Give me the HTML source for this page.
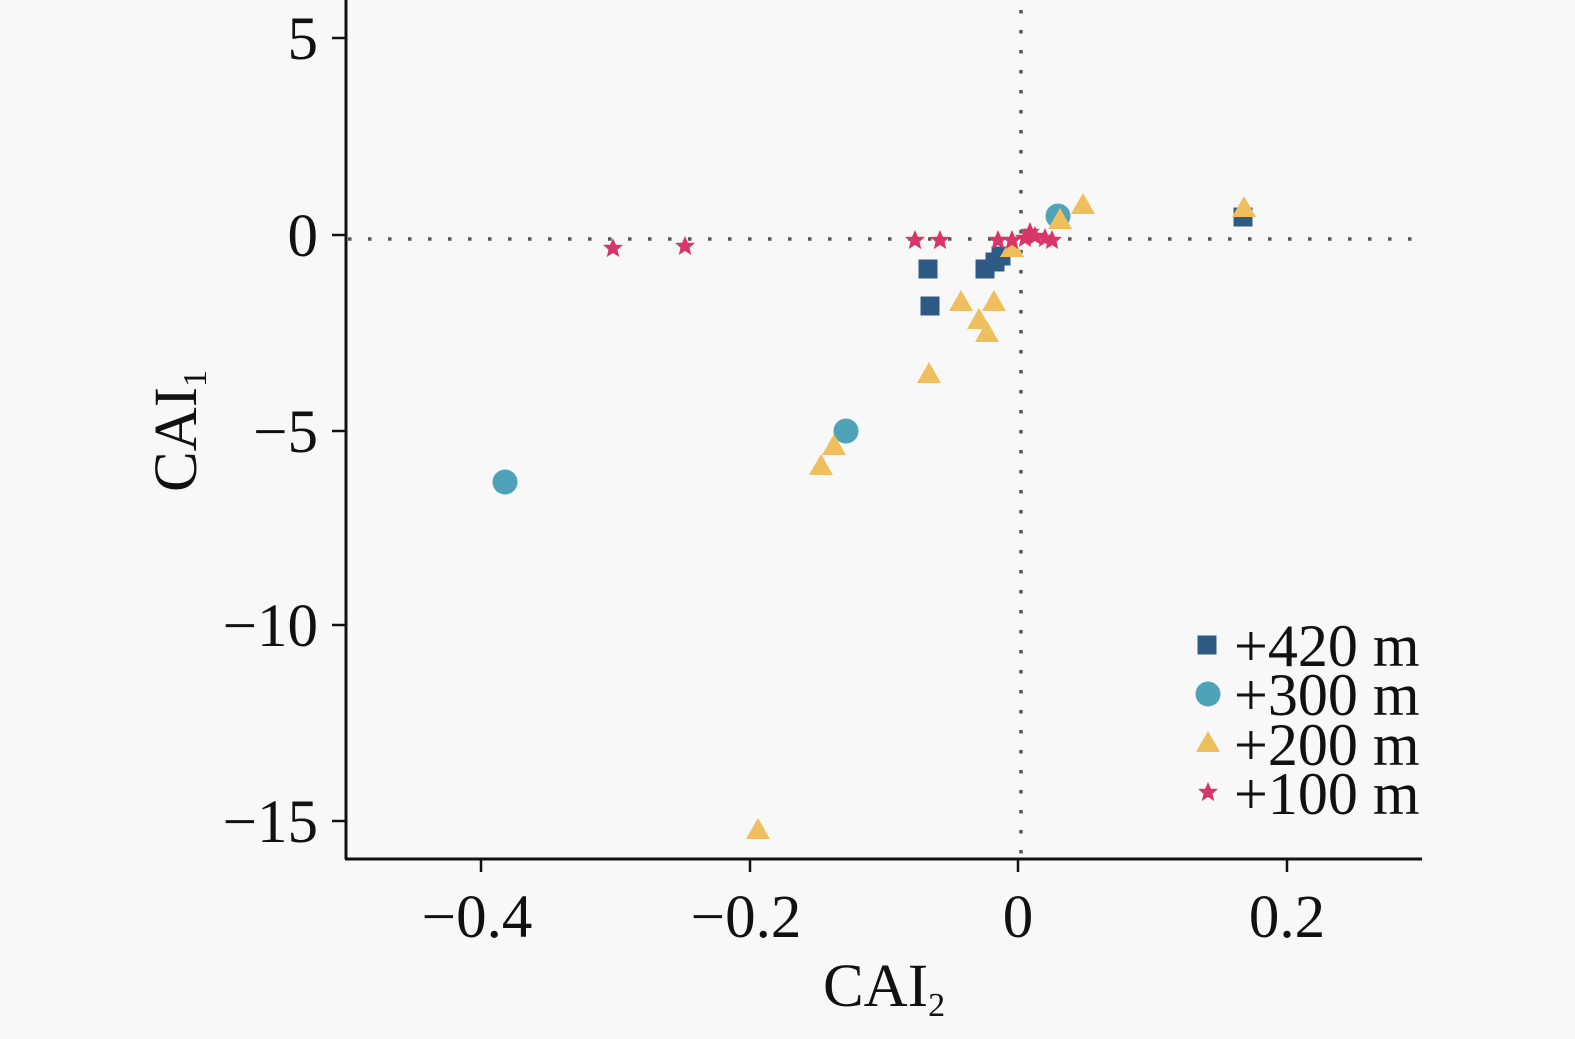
<!DOCTYPE html>
<html><head><meta charset="utf-8"><style>
html,body{margin:0;padding:0;background:#f8f8f8;}
svg{display:block;}
text{font-family:"Liberation Serif","Times New Roman",serif;fill:#111;}
</style></head><body>
<svg width="1575" height="1039" viewBox="0 0 1575 1039" xmlns="http://www.w3.org/2000/svg">
<defs>
<g id="sq"><rect x="-9.5" y="-9.5" width="19" height="19" fill="#2e5b86"/></g>
<g id="ci"><circle r="12.5" fill="#4fa3b9"/></g>
<g id="tr"><polygon points="0,-12 12,9 -12,9" fill="#efbf5e"/></g>
<g id="st"><polygon points="0,-10 2.9,-3.3 10,-3.1 4.5,1.7 6.2,9 0,5 -6.2,9 -4.5,1.7 -10,-3.1 -2.9,-3.3" fill="#d83668"/></g>
</defs>
<rect width="1575" height="1039" fill="#f8f8f8"/>
<line x1="348" y1="239" x2="1422" y2="239" stroke="#555" stroke-width="3.5" stroke-dasharray="3.5 16.5"/>
<line x1="1021" y1="10" x2="1021" y2="856" stroke="#555" stroke-width="3.5" stroke-dasharray="3.5 16.5"/>
<line x1="346" y1="0" x2="346" y2="859" stroke="#111" stroke-width="3"/>
<line x1="345" y1="859" x2="1422" y2="859" stroke="#111" stroke-width="3"/>
<g stroke="#111" stroke-width="2.5">
<line x1="332" y1="38" x2="346" y2="38"/><line x1="332" y1="235" x2="346" y2="235"/>
<line x1="332" y1="431" x2="346" y2="431"/><line x1="332" y1="625" x2="346" y2="625"/>
<line x1="332" y1="821" x2="346" y2="821"/>
<line x1="481" y1="859" x2="481" y2="872"/><line x1="750" y1="859" x2="750" y2="872"/>
<line x1="1018" y1="859" x2="1018" y2="872"/><line x1="1287" y1="859" x2="1287" y2="872"/>
</g>
<g font-size="61" text-anchor="end">
<text x="318" y="59">5</text><text x="318" y="256">0</text>
<text x="318" y="452">−5</text><text x="318" y="646">−10</text><text x="318" y="842">−15</text>
</g>
<g font-size="61" text-anchor="middle">
<text x="477" y="937">−0.4</text><text x="746" y="937">−0.2</text>
<text x="1018" y="937">0</text><text x="1287" y="937">0.2</text>
</g>
<text x="823" y="1006" font-size="61">CAI<tspan font-size="34" dy="10">2</tspan></text>
<text transform="translate(196,492) rotate(-90)" font-size="61">CAI<tspan font-size="34" dy="10">1</tspan></text>
<use href="#ci" x="505" y="482"/>
<use href="#ci" x="846" y="431"/>
<use href="#tr" x="834" y="446"/><use href="#tr" x="821" y="466"/>
<use href="#tr" x="758" y="830"/>
<use href="#tr" x="929" y="374"/>
<use href="#sq" x="928" y="269"/><use href="#sq" x="930" y="306"/>
<use href="#tr" x="961" y="302"/><use href="#tr" x="994" y="302"/>
<use href="#tr" x="979" y="320"/><use href="#tr" x="987" y="333"/>
<use href="#sq" x="985" y="269"/><use href="#sq" x="995" y="262"/><use href="#sq" x="1001" y="256"/>
<use href="#tr" x="1012" y="248"/>
<use href="#st" x="613" y="248"/><use href="#st" x="685" y="246"/>
<use href="#st" x="915" y="240"/><use href="#st" x="940" y="240"/>
<use href="#st" x="998" y="240"/>
<use href="#ci" x="1058" y="216"/><use href="#tr" x="1060" y="220"/>
<use href="#tr" x="1083" y="205"/>
<use href="#st" x="1012" y="240"/><use href="#st" x="1025" y="238"/><use href="#st" x="1035" y="236"/>
<use href="#st" x="1045" y="238"/><use href="#st" x="1052" y="240"/><use href="#st" x="1030" y="232"/>
<use href="#sq" x="1243" y="217"/><use href="#tr" x="1244" y="208"/>
<use href="#sq" x="1207" y="645"/>
<use href="#ci" x="1208" y="694"/>
<use href="#tr" x="1208" y="743"/>
<use href="#st" x="1208" y="792"/>
<g font-size="60">
<text x="1234" y="666">+420 m</text>
<text x="1234" y="715">+300 m</text>
<text x="1234" y="765">+200 m</text>
<text x="1234" y="814">+100 m</text>
</g>
</svg>
</body></html>
